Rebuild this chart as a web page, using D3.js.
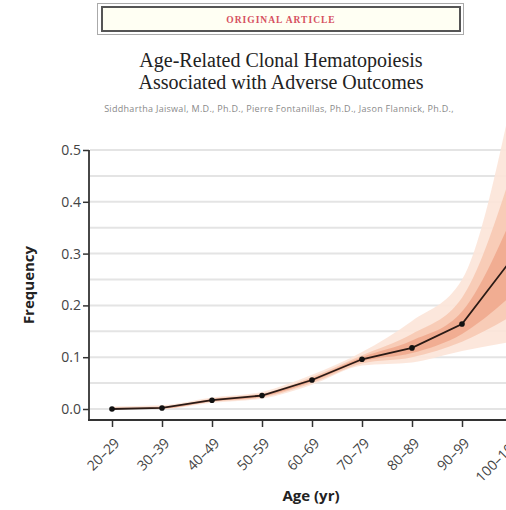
<!DOCTYPE html>
<html>
<head>
<meta charset="utf-8">
<script src="https://cdn.jsdelivr.net/npm/d3@7"></script>
<style>
  body { margin: 0; background: #fff; }
</style>
</head>
<body>
<script>
// Age groups and estimated clonal hematopoiesis frequency
var ages = ["20–29", "30–39", "40–49", "50–59", "60–69", "70–79", "80–89", "90–99", "100–109"];
var freq = [0.000, 0.002, 0.017, 0.026, 0.056, 0.096, 0.118, 0.164, 0.290];

// Uncertainty bands (outer, middle, inner)
var outerLo = [0.000, 0.000, 0.012, 0.020, 0.047, 0.084, 0.090, 0.112, 0.130];
var outerHi = [0.005, 0.007, 0.022, 0.033, 0.066, 0.110, 0.170, 0.250, 0.600];
var midLo   = [0.000, 0.001, 0.014, 0.022, 0.050, 0.088, 0.100, 0.130, 0.180];
var midHi   = [0.003, 0.005, 0.020, 0.030, 0.062, 0.104, 0.145, 0.215, 0.460];
var innerLo = [0.000, 0.001, 0.015, 0.024, 0.053, 0.092, 0.108, 0.145, 0.220];
var innerHi = [0.001, 0.003, 0.019, 0.028, 0.059, 0.100, 0.132, 0.188, 0.370];

var yTicks = [0, 0.1, 0.2, 0.3, 0.4, 0.5];
var gridVals = [0, 0.05, 0.1, 0.15, 0.2, 0.25, 0.3, 0.35, 0.4, 0.45, 0.5];

var width = 506, height = 510;

let svg = d3.select("body").append("svg")
    .attr("width", width)
    .attr("height", height);

// Header box with "ORIGINAL ARTICLE"
svg.append("rect")
    .attr("x", 97.5).attr("y", 3.5)
    .attr("width", 366).attr("height", 31)
    .attr("fill", "none")
    .attr("stroke", "#aaa");
svg.append("rect")
    .attr("x", 102).attr("y", 7)
    .attr("width", 358).attr("height", 24)
    .attr("fill", "#fffff3")
    .attr("stroke", "#555")
    .attr("stroke-width", 2);
svg.append("text")
    .attr("x", 281).attr("y", 22.5)
    .attr("text-anchor", "middle")
    .attr("font-family", "Liberation Serif, serif")
    .attr("font-size", "9.5px")
    .attr("font-weight", "bold")
    .attr("letter-spacing", "1px")
    .attr("fill", "#d6505f")
    .text("ORIGINAL ARTICLE");

// Title and authors
var title = ["Age-Related Clonal Hematopoiesis", "Associated with Adverse Outcomes"];
svg.selectAll(".title")
    .data(title)
    .enter().append("text")
    .attr("class", "title")
    .attr("x", 281)
    .attr("y", (d, i) => 67 + i * 22)
    .attr("text-anchor", "middle")
    .attr("font-family", "Liberation Serif, serif")
    .attr("font-size", "20px")
    .attr("fill", "#222")
    .text(d => d);

svg.append("text")
    .attr("x", 279).attr("y", 112)
    .attr("text-anchor", "middle")
    .attr("font-family", "Open Sans, sans-serif")
    .attr("font-size", "9px")
    .attr("letter-spacing", "0.3px")
    .attr("fill", "#8a8a8a")
    .text("Siddhartha Jaiswal, M.D., Ph.D., Pierre Fontanillas, Ph.D., Jason Flannick, Ph.D.,");

// Scales
let xScale = d3.scalePoint()
    .domain(ages)
    .range([112, 512]);
let yScale = d3.scaleLinear()
    .domain([0, 0.5])
    .range([409, 150]);

// Gridlines
svg.append("g")
    .selectAll("line")
    .data(gridVals)
    .enter().append("line")
    .attr("x1", 90).attr("x2", width)
    .attr("y1", d => yScale(d)).attr("y2", d => yScale(d))
    .attr("stroke", "#e4e4e4")
    .attr("stroke-width", 2);

// Bands
var bands = [
    { lo: outerLo, hi: outerHi, color: "#fce4d8" },
    { lo: midLo, hi: midHi, color: "#f7c9b3" },
    { lo: innerLo, hi: innerHi, color: "#efaa8e" }
];
let area = d3.area()
    .x((d, i) => xScale(ages[i]))
    .y0(d => yScale(d[0]))
    .y1(d => yScale(d[1]))
    .curve(d3.curveMonotoneX);
bands.forEach(function (b) {
    svg.append("path")
        .datum(b.lo.map((v, i) => [v, b.hi[i]]))
        .attr("d", area)
        .attr("fill", b.color)
        .attr("fill-opacity", 0.9);
});

// Line and points
let line = d3.line()
    .x((d, i) => xScale(ages[i]))
    .y(d => yScale(d));
svg.append("path")
    .datum(freq)
    .attr("d", line)
    .attr("fill", "none")
    .attr("stroke", "#2a1a15")
    .attr("stroke-width", 1.8);
svg.append("g")
    .selectAll("circle")
    .data(freq)
    .enter().append("circle")
    .attr("cx", (d, i) => xScale(ages[i]))
    .attr("cy", d => yScale(d))
    .attr("r", 2.8)
    .attr("fill", "#111");

// Y axis
let yAxis = d3.axisLeft(yScale)
    .tickValues(yTicks)
    .tickSize(6)
    .tickFormat(d3.format(".1f"));
svg.append("g")
    .attr("transform", "translate(89,0)")
    .call(yAxis)
    .call(g => g.select(".domain").remove())
    .call(g => g.selectAll("line").attr("stroke", "#333").attr("stroke-width", 1.5))
    .call(g => g.selectAll("text")
        .attr("font-family", "Open Sans, sans-serif")
        .attr("font-size", "14px")
        .attr("fill", "#444")
        .attr("x", -8));
svg.append("line")
    .attr("x1", 89).attr("x2", 89)
    .attr("y1", 150).attr("y2", 421)
    .attr("stroke", "#333").attr("stroke-width", 1.8);

// X axis
let xAxis = d3.axisBottom(xScale)
    .tickSize(7);
svg.append("g")
    .attr("transform", "translate(0,420)")
    .call(xAxis)
    .call(g => g.select(".domain").remove())
    .call(g => g.selectAll("line").attr("stroke", "#333").attr("stroke-width", 1.5))
    .call(g => g.selectAll("text")
        .attr("font-family", "Open Sans, sans-serif")
        .attr("font-size", "14px")
        .attr("fill", "#444")
        .attr("text-anchor", "end")
        .attr("dy", null)
        .attr("y", 0)
        .attr("transform", "translate(8,24) rotate(-45)"));
svg.append("line")
    .attr("x1", 88).attr("x2", width)
    .attr("y1", 420).attr("y2", 420)
    .attr("stroke", "#333").attr("stroke-width", 1.8);

// Axis titles
svg.append("text")
    .attr("x", 311).attr("y", 501)
    .attr("text-anchor", "middle")
    .attr("font-family", "Open Sans, sans-serif")
    .attr("font-size", "15px")
    .attr("font-weight", "bold")
    .attr("fill", "#222")
    .text("Age (yr)");
svg.append("text")
    .attr("transform", "translate(34,285) rotate(-90)")
    .attr("text-anchor", "middle")
    .attr("font-family", "Open Sans, sans-serif")
    .attr("font-size", "15px")
    .attr("font-weight", "bold")
    .attr("fill", "#222")
    .text("Frequency");
</script>
</body>
</html>
